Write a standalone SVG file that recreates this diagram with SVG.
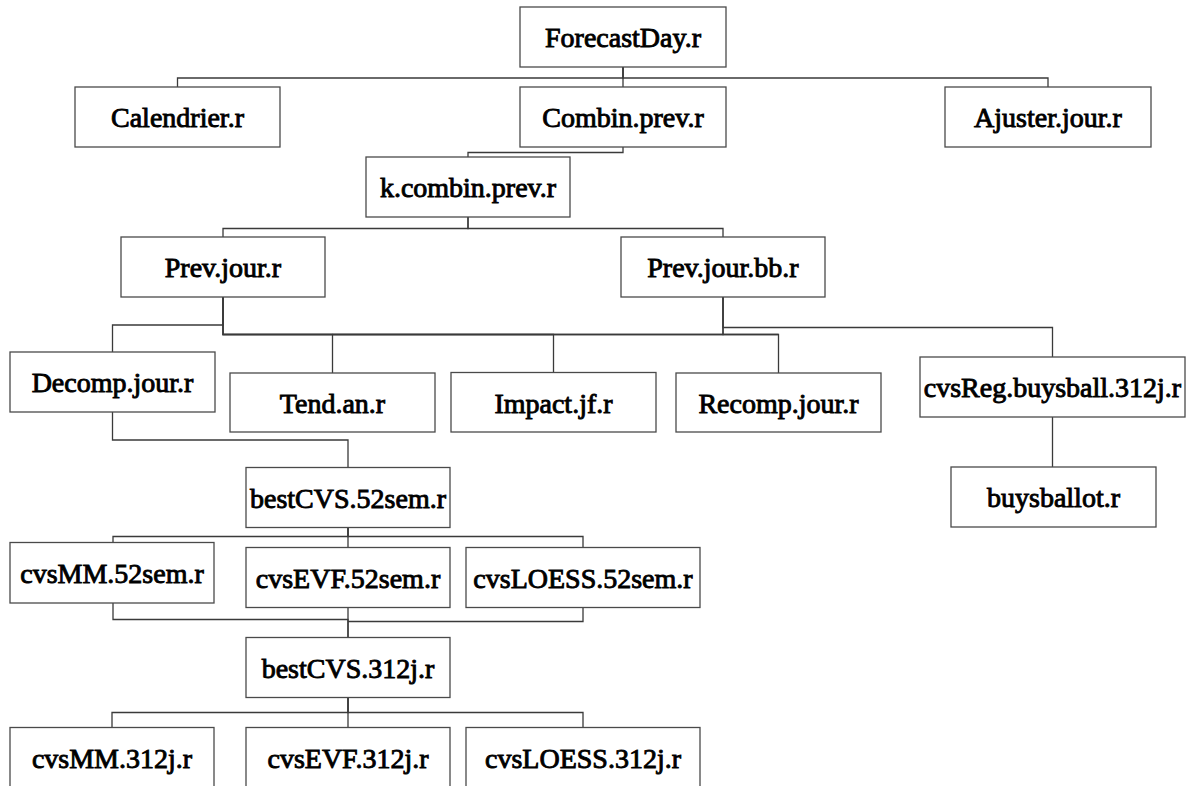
<svg xmlns="http://www.w3.org/2000/svg" width="1188" height="786" viewBox="0 0 1188 786">
<style>
.box{fill:#fff;stroke:#4a4a4a;stroke-width:1.3}
.lbl{font-family:"Liberation Serif","Times New Roman",serif;font-size:28px;fill:#000;stroke:#000;stroke-width:0.9;text-anchor:middle}
.con{fill:none;stroke:#3a3a3a;stroke-width:1.3}
</style>
<rect width="1188" height="786" fill="#fff"/>
<g id="connectors">
<path class="con" d="M623,67 V78 H177.5 V87"/>
<path class="con" d="M623,67 V87"/>
<path class="con" d="M623,67 V78 H1048 V87"/>
<path class="con" d="M623,147 V152.5 H468 V157"/>
<path class="con" d="M468,217 V228.5 H223 V237"/>
<path class="con" d="M468,217 V228.5 H723 V237"/>
<path class="con" d="M223,297 V325 H112.5 V352"/>
<path class="con" d="M223,297 V334.5 H332.5 V373"/>
<path class="con" d="M223,297 V334.5 H553.5 V372.5"/>
<path class="con" d="M223,297 V334.5 H778.5 V373"/>
<path class="con" d="M723,297 V334.5 H332.5"/>
<path class="con" d="M723,297 V334.5 H778.5"/>
<path class="con" d="M723,297 V327.5 H1052.5 V357"/>
<path class="con" d="M1052.5,417 V467"/>
<path class="con" d="M112.5,412 V440 H348 V467.5"/>
<path class="con" d="M348,527.5 V536.5 H113 V542.5"/>
<path class="con" d="M348,527.5 V547.5"/>
<path class="con" d="M348,527.5 V536.5 H583 V547.5"/>
<path class="con" d="M113,603 V619.5 H348 V637.5"/>
<path class="con" d="M348,607.5 V637.5"/>
<path class="con" d="M583,607.5 V621.5 H348"/>
<path class="con" d="M348,697.5 V712.5 H112 V727.5"/>
<path class="con" d="M348,697.5 V727.5"/>
<path class="con" d="M348,697.5 V712.5 H583 V727.5"/>
</g>
<g id="n-forecastday"><rect class="box" x="520" y="7" width="206" height="60"/><text class="lbl" x="623" y="47">ForecastDay.r</text></g>
<g id="n-calendrier"><rect class="box" x="75" y="87" width="205" height="60"/><text class="lbl" x="177.5" y="127">Calendrier.r</text></g>
<g id="n-combin"><rect class="box" x="520" y="87" width="206" height="60"/><text class="lbl" x="623" y="127">Combin.prev.r</text></g>
<g id="n-ajuster"><rect class="box" x="945" y="87" width="206" height="60"/><text class="lbl" x="1048" y="127">Ajuster.jour.r</text></g>
<g id="n-kcombin"><rect class="box" x="366" y="157" width="204" height="60"/><text class="lbl" x="468" y="197">k.combin.prev.r</text></g>
<g id="n-prevjour"><rect class="box" x="121" y="237" width="204" height="60"/><text class="lbl" x="223" y="277">Prev.jour.r</text></g>
<g id="n-prevjourbb"><rect class="box" x="621" y="237" width="204" height="60"/><text class="lbl" x="723" y="277">Prev.jour.bb.r</text></g>
<g id="n-decomp"><rect class="box" x="10" y="352" width="205" height="60"/><text class="lbl" x="112.5" y="392">Decomp.jour.r</text></g>
<g id="n-tend"><rect class="box" x="230" y="373" width="205" height="59"/><text class="lbl" x="332.5" y="412.5">Tend.an.r</text></g>
<g id="n-impact"><rect class="box" x="451" y="372.5" width="205" height="59.5"/><text class="lbl" x="553.5" y="412.5">Impact.jf.r</text></g>
<g id="n-recomp"><rect class="box" x="676" y="373" width="205" height="59"/><text class="lbl" x="778.5" y="412.5">Recomp.jour.r</text></g>
<g id="n-cvsreg"><rect class="box" x="920" y="357" width="265" height="60"/><text class="lbl" x="1052.5" y="397">cvsReg.buysball.312j.r</text></g>
<g id="n-buysballot"><rect class="box" x="951" y="467" width="205" height="60"/><text class="lbl" x="1053.5" y="507">buysballot.r</text></g>
<g id="n-bestcvs52"><rect class="box" x="246" y="467.5" width="204" height="60"/><text class="lbl" x="348" y="507.5">bestCVS.52sem.r</text></g>
<g id="n-cvsmm52"><rect class="box" x="10" y="542.5" width="204" height="60.5"/><text class="lbl" x="112" y="582.5">cvsMM.52sem.r</text></g>
<g id="n-cvsevf52"><rect class="box" x="246" y="547.5" width="204" height="60"/><text class="lbl" x="348" y="587.5">cvsEVF.52sem.r</text></g>
<g id="n-cvsloess52"><rect class="box" x="466" y="547.5" width="234" height="60"/><text class="lbl" x="583" y="587.5">cvsLOESS.52sem.r</text></g>
<g id="n-bestcvs312"><rect class="box" x="246" y="637.5" width="204" height="60"/><text class="lbl" x="348" y="677.5">bestCVS.312j.r</text></g>
<g id="n-cvsmm312"><rect class="box" x="10" y="727.5" width="204" height="64"/><text class="lbl" x="112" y="767.5">cvsMM.312j.r</text></g>
<g id="n-cvsevf312"><rect class="box" x="246" y="727.5" width="204" height="64"/><text class="lbl" x="348" y="767.5">cvsEVF.312j.r</text></g>
<g id="n-cvsloess312"><rect class="box" x="466" y="727.5" width="234" height="64"/><text class="lbl" x="583" y="767.5">cvsLOESS.312j.r</text></g>
</svg>
